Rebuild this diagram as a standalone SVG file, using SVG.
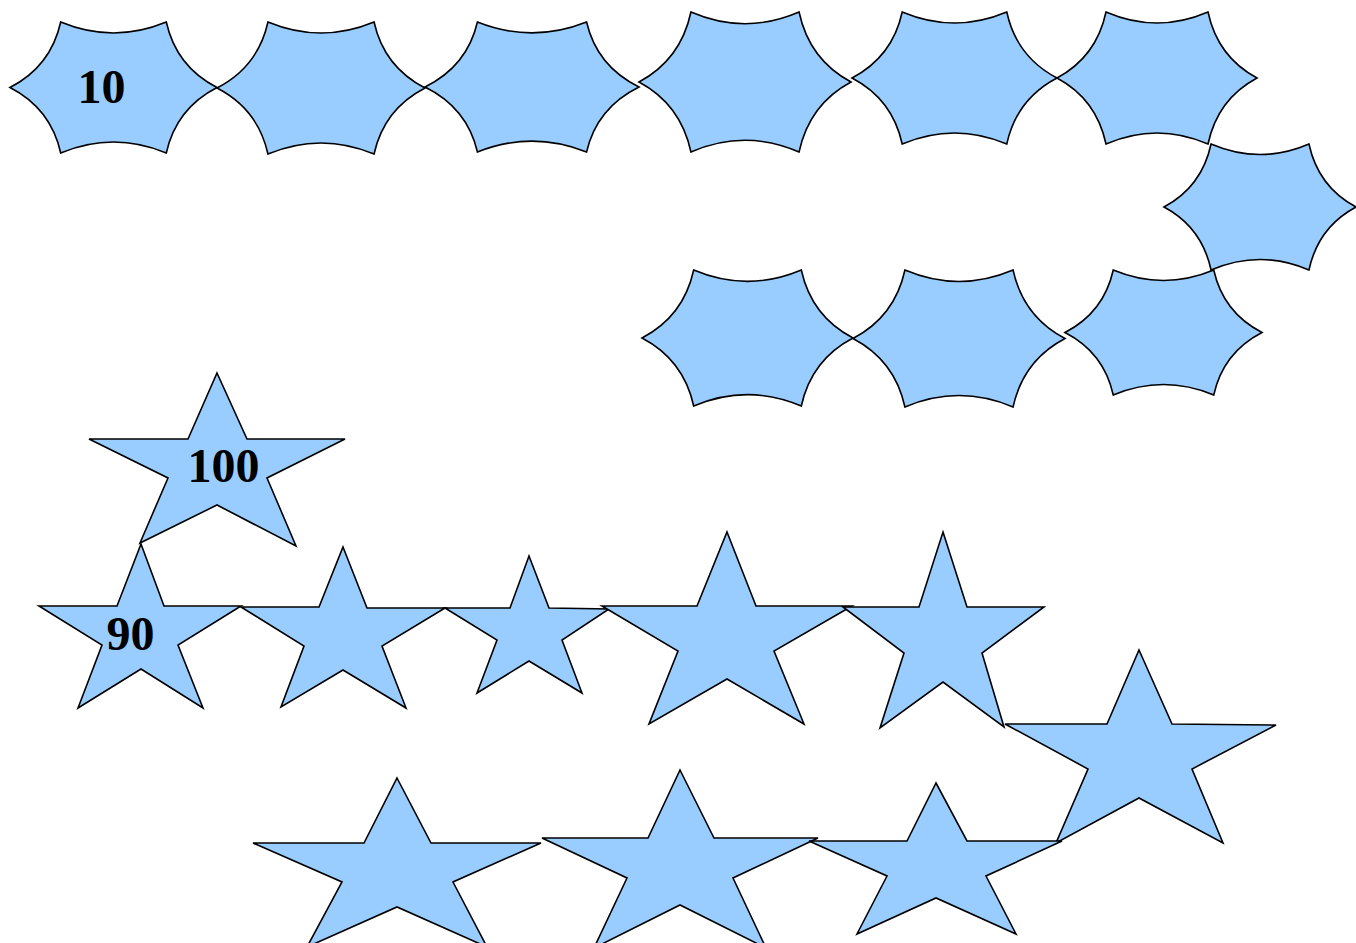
<svg xmlns="http://www.w3.org/2000/svg" xmlns:xlink="http://www.w3.org/1999/xlink" width="1356" height="943" viewBox="0 0 1356 943">
<style>
.sh{fill:#99ccff;stroke:#000;stroke-width:1.6;stroke-linejoin:miter}
.hx{fill:#99ccff;stroke:#000;stroke-width:1.6;vector-effect:non-scaling-stroke}
.lb{font-family:"Liberation Serif","Times New Roman",serif;font-weight:bold;font-size:48px;fill:#000;text-anchor:middle}
</style>
<defs>
<path id="hex" class="hx" vector-effect="non-scaling-stroke" d="M0,50 Q19.7,34 24.5,0 Q50,16.7 75.5,0 Q80.3,34 100,50 Q80.3,66 75.5,100 Q50,83.3 24.5,100 Q19.7,66 0,50 Z"/>
</defs>
<rect width="1356" height="943" fill="#fff"/>
<g id="hex1"><use xlink:href="#hex" href="#hex" transform="translate(10,22) scale(2.07,1.31)"/><text class="lb" x="101.5" y="103">10</text></g>
<g id="hex2"><use xlink:href="#hex" href="#hex" transform="translate(217,22) scale(2.08,1.32)"/></g>
<g id="hex3"><use xlink:href="#hex" href="#hex" transform="translate(425,22) scale(2.14,1.30)"/></g>
<g id="hex4"><use xlink:href="#hex" href="#hex" transform="translate(639,12) scale(2.12,1.40)"/></g>
<g id="hex5"><use xlink:href="#hex" href="#hex" transform="translate(852,12) scale(2.05,1.32)"/></g>
<g id="hex6"><use xlink:href="#hex" href="#hex" transform="translate(1057,12) scale(2.00,1.32)"/></g>
<g id="hex7"><use xlink:href="#hex" href="#hex" transform="translate(1164,144) scale(1.92,1.26)"/></g>
<g id="hex8"><use xlink:href="#hex" href="#hex" transform="translate(642,270) scale(2.11,1.36)"/></g>
<g id="hex9"><use xlink:href="#hex" href="#hex" transform="translate(853,270) scale(2.12,1.37)"/></g>
<g id="hex10"><use xlink:href="#hex" href="#hex" transform="translate(1065,270) scale(1.97,1.25)"/></g>
<g id="star100"><polygon class="sh" points="217,373 247,439 345,439 267,478 296,546 217,505 140,543 168,478 89,439 188,439"/><text class="lb" x="223.5" y="482">100</text></g>
<g id="star90"><polygon class="sh" points="141,544 164,606 241,606 178,645 203,708 141,669 78,708 102,645 39,606 117,606"/><text class="lb" x="130.5" y="650">90</text></g>
<g id="star3"><polygon class="sh" points="343,547 367,608 445,608 382,646 406,708 343,670 281,707 304,646 241,607 319,607"/></g>
<g id="star4"><polygon class="sh" points="529,556 549,608 609,609 562,640 582,693 529,661 477,693 497,640 445,608 510,608"/></g>
<g id="star5"><polygon class="sh" points="727,532 756,606 852,606 774,651 804,724 727,679 649,724 678,651 602,606 697,606"/></g>
<g id="star6"><polygon class="sh" points="943,532 967,607 1044,607 982,653 1004,727 943,682 880,728 904,653 843,607 919,607"/></g>
<g id="star7"><polygon class="sh" points="1139,650 1172,724 1276,725 1192,769 1223,843 1139,798 1056,843 1088,769 1005,724 1107,724"/></g>
<g id="star8"><polygon class="sh" points="397,778 431,843 541,843 453,882 487,947 397,907 307,947 342,882 253,843 364,843"/></g>
<g id="star9"><polygon class="sh" points="680,770 714,838 818,838 733,878 766,948 680,905 594,948 627,878 542,838 648,838"/></g>
<g id="star10"><polygon class="sh" points="936,783 967,841 1062,841 986,876 1016,934 936,898 857,934 887,876 809,841 907,841"/></g>
</svg>
